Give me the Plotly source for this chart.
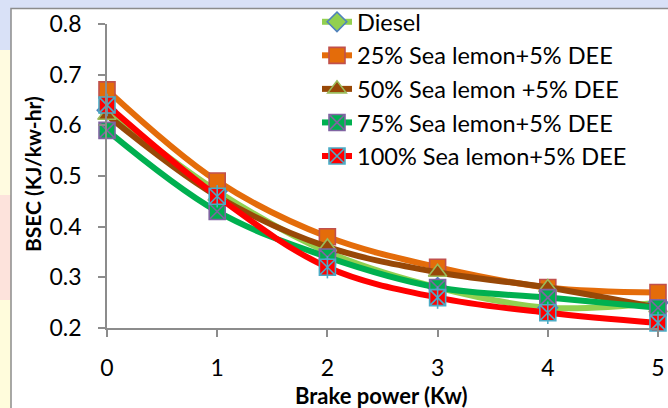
import plotly.graph_objects as go

x_power = [0, 1, 2, 3, 4, 5]
x_tick_labels = ["0", "1", "2", "3", "4", "5"]
y_tick_values = [0.2, 0.3, 0.4, 0.5, 0.6, 0.7, 0.8]
y_tick_labels = ["0.2", "0.3", "0.4", "0.5", "0.6", "0.7", "0.8"]

series_names = [
    "Diesel",
    "25% Sea lemon+5% DEE",
    "50% Sea lemon +5% DEE",
    "75% Sea lemon+5% DEE",
    "100% Sea lemon+5% DEE",
]
diesel = [0.63, 0.47, 0.35, 0.28, 0.24, 0.25]
sl25 = [0.67, 0.49, 0.38, 0.32, 0.28, 0.27]
sl50 = [0.62, 0.46, 0.36, 0.31, 0.28, 0.24]
sl75 = [0.59, 0.43, 0.34, 0.28, 0.26, 0.24]
sl100 = [0.64, 0.46, 0.32, 0.26, 0.23, 0.21]

FONT = "Lato"

styles = [
    dict(line="#92D050", fill="#92D050", edge="#4F81BD", symbol="diamond", size=15),
    dict(line="#E46C0A", fill="#E46C0A", edge="#C0504D", symbol="square", size=16),
    dict(line="#984807", fill="#984807", edge="#9BBB59", symbol="triangle-up", size=16),
    dict(line="#00B050", fill="#00B050", edge="#8064A2", symbol="square-x", size=16),
    dict(line="#FF0000", fill="#FF0000", edge="#4BACC6", symbol="square-x", size=16),
]
data = [diesel, sl25, sl50, sl75, sl100]

fig = go.Figure()
for name, vals, st in zip(series_names, data, styles):
    fig.add_trace(go.Scatter(
        x=x_power, y=vals, name=name, mode="lines+markers",
        line=dict(color=st["line"], width=6, shape="spline", smoothing=1.0),
        marker=dict(symbol=st["symbol"], size=st["size"], color=st["fill"],
                    line=dict(color=st["edge"], width=1.6)),
        cliponaxis=False,
    ))
# vertical stroke of the asterisk marker for the 100% series
fig.add_trace(go.Scatter(
    x=x_power, y=sl100, mode="markers", showlegend=False, hoverinfo="skip",
    marker=dict(symbol="line-ns", size=16, color="#4BACC6",
                line=dict(color="#4BACC6", width=1.6)),
    cliponaxis=False,
))

# plot domain in pixels: x 107..658, y 24..328
def px_x(p):
    return (p - 107) / 551.0

def px_y(p):
    return (328 - p) / 304.0

shapes = [
    dict(type="rect", xref="paper", yref="paper", x0=px_x(-5), x1=px_x(11),
         y0=px_y(50), y1=px_y(195), fillcolor="#FFFBE0", line=dict(width=0), layer="below"),
    dict(type="rect", xref="paper", yref="paper", x0=px_x(-5), x1=px_x(11),
         y0=px_y(195), y1=px_y(300), fillcolor="#FDE3DC", line=dict(width=0), layer="below"),
    dict(type="rect", xref="paper", yref="paper", x0=px_x(-5), x1=px_x(11),
         y0=px_y(300), y1=px_y(420), fillcolor="#FFFCDC", line=dict(width=0), layer="below"),
    dict(type="rect", xref="paper", yref="paper", x0=px_x(11), x1=px_x(680),
         y0=px_y(420), y1=px_y(8.5), fillcolor="white",
         line=dict(color="#8C8C8C", width=1.5), layer="below"),
]

annotations = [
    dict(text="<b>Brake power (Kw)</b>", xref="paper", yref="paper",
         x=px_x(381), y=px_y(395), xanchor="center", yanchor="middle",
         showarrow=False, font=dict(family=FONT, size=22, color="#000000")),
    dict(text="<b>BSEC (KJ/kw-hr)</b>", xref="paper", yref="paper",
         x=px_x(32), y=px_y(174), xanchor="center", yanchor="middle", textangle=-90,
         showarrow=False, font=dict(family=FONT, size=21, color="#000000")),
]

fig.update_layout(
    width=668, height=408,
    margin=dict(l=107, r=10, t=24, b=80, pad=0, autoexpand=False),
    paper_bgcolor="#D9E1F7",
    plot_bgcolor="rgba(0,0,0,0)",
    font=dict(family=FONT, size=23, color="#000000"),
    shapes=shapes,
    annotations=annotations,
    showlegend=True,
    legend=dict(
        x=px_x(317), y=px_y(0), xanchor="left", yanchor="top",
        bgcolor="rgba(0,0,0,0)", borderwidth=0,
        font=dict(family=FONT, size=23.5, color="#000000"),
        itemwidth=30, tracegroupgap=0,
    ),
    xaxis=dict(
        range=[0, 5], tickmode="array", tickvals=x_power, ticktext=x_tick_labels,
        showgrid=False, zeroline=False, showline=True, linecolor="#8C8C8C", linewidth=1.5,
        ticks="outside", ticklen=7, tickwidth=1.5, tickcolor="#8C8C8C",
        ticklabelstandoff=12, automargin=False,
        tickfont=dict(family=FONT, size=23),
    ),
    yaxis=dict(
        range=[0.2, 0.8], tickmode="array", tickvals=y_tick_values, ticktext=y_tick_labels,
        showgrid=False, zeroline=False, showline=True, linecolor="#8C8C8C", linewidth=1.5,
        ticks="outside", ticklen=7, tickwidth=1.5, tickcolor="#8C8C8C",
        ticklabelstandoff=12, automargin=False,
        tickfont=dict(family=FONT, size=23),
    ),
)

fig.write_html(
    "out.html",
    config={"displayModeBar": False},
    post_script="document.body.style.margin='0';document.body.style.overflow='hidden';",
)
